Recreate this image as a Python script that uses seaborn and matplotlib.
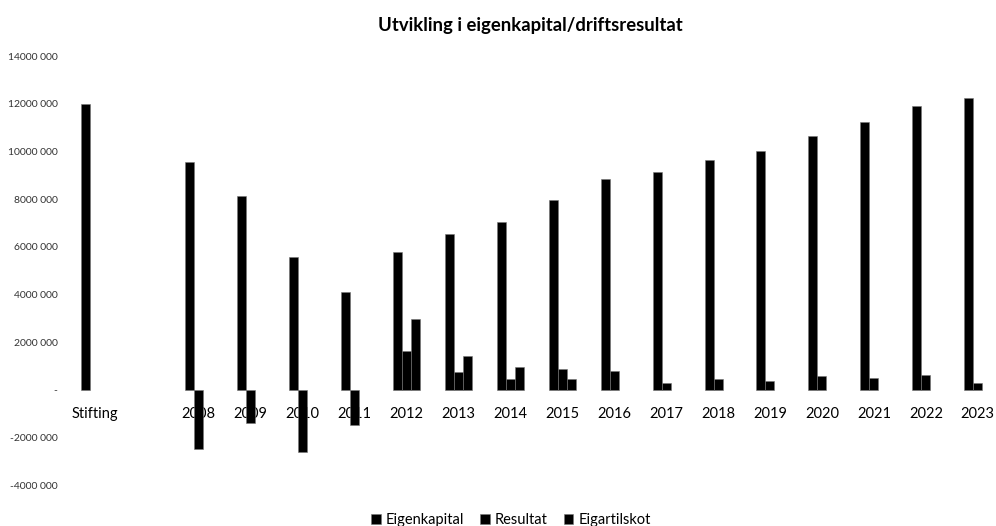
import numpy as np
import pandas as pd
import matplotlib
matplotlib.use("Agg")
import matplotlib.pyplot as plt
from matplotlib.ticker import FuncFormatter
import seaborn as sns

categories = ["Stifting", "", "2008", "2009", "2010", "2011", "2012", "2013", "2014",
              "2015", "2016", "2017", "2018", "2019", "2020", "2021", "2022", "2023"]
eigenkapital = [12000000, np.nan, 9550000, 8130000, 5580000, 4120000, 5770000, 6550000,
                7040000, 7970000, 8830000, 9130000, 9630000, 10020000, 10650000,
                11220000, 11900000, 12230000]
resultat = [np.nan, np.nan, -2470000, -1400000, -2610000, -1470000, 1640000, 740000,
            470000, 870000, 810000, 280000, 450000, 380000, 590000, 500000, 640000, 310000]
eigartilskot = [np.nan, np.nan, np.nan, np.nan, np.nan, np.nan, 2960000, 1440000,
                980000, 450000, np.nan, np.nan, np.nan, np.nan, np.nan, np.nan, np.nan, np.nan]
series = ["Eigenkapital", "Resultat", "Eigartilskot"]

sns.set_theme(style="white")
plt.rcParams["font.family"] = ["Lato", "DejaVu Sans"]

df = pd.DataFrame({"Kategori": categories, "Eigenkapital": eigenkapital,
                   "Resultat": resultat, "Eigartilskot": eigartilskot})
long = df.melt(id_vars="Kategori", var_name="Serie", value_name="Verdi").dropna()

fig = plt.figure(figsize=(9.96, 5.26), dpi=100)
ax = fig.add_axes([0.0688, 0.0772, 0.9312, 0.8163])

sns.barplot(data=long, x="Kategori", y="Verdi", hue="Serie", order=categories,
            hue_order=series, palette=["black"] * 3, width=0.52, errorbar=None,
            edgecolor="#777777", linewidth=0.4, ax=ax)

ax.set_ylim(-4e6, 14e6)
ax.set_yticks(np.arange(-4e6, 14e6 + 1, 2e6))
ax.set_xlim(-0.5, 17.35)


def fmt(v, pos):
    v = int(round(v))
    if v == 0:
        return "-"
    sign = "-" if v < 0 else ""
    v = abs(v)
    return f"{sign}{v // 1000} {v % 1000:03d}"


ax.yaxis.set_major_formatter(FuncFormatter(fmt))
ax.tick_params(axis="y", length=0, pad=8, labelsize=7.5, labelcolor="#333333")
ax.spines["bottom"].set_position(("data", 0))
ax.tick_params(axis="x", length=0, pad=12, labelsize=10.5, labelcolor="black")
for s in ax.spines.values():
    s.set_visible(False)
ax.set_xlabel("")
ax.set_ylabel("")

ax.legend(loc="center", bbox_to_anchor=(511 / 996, 1 - 520 / 526),
          bbox_transform=fig.transFigure, ncol=3, frameon=False, fontsize=10.5,
          labelcolor="black", handlelength=0.65, handleheight=0.65,
          handletextpad=0.35, columnspacing=1.1)

fig.text(530 / 996, 1 - 25 / 526, "Utvikling i eigenkapital/driftsresultat",
         ha="center", va="center", fontsize=13.3, fontweight="bold", color="black")

fig.savefig("out.png", dpi=100)
